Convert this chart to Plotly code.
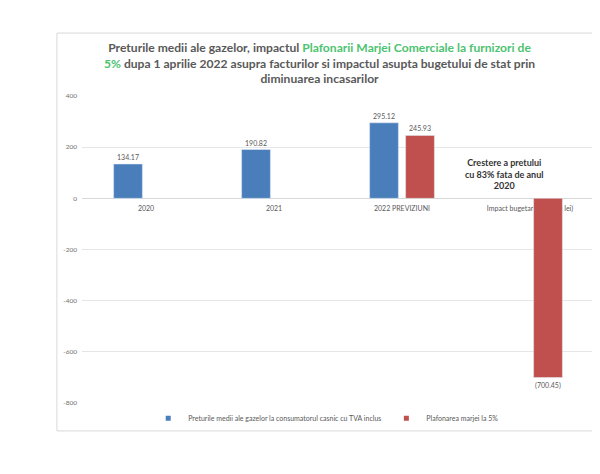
import plotly.graph_objects as go

categories = ["2020", "2021", "2022 PREVIZIUNI", "Impact bugetar (milioane lei)"]
pret_mediu = [134.17, 190.82, 295.12, None]
plafonare = [None, None, 245.93, -700.45]
series_names = ["Preturile medii ale gazelor la consumatorul casnic cu TVA inclus",
                "Plafonarea marjei la 5%"]
series_colors = ["#4A7EBB", "#C0504D"]
y_ticks = [-800, -600, -400, -200, 0, 200, 400]
y_tick_text = ["-800", "-600", "-400", "-200", "0", "200", "400"]


def fmt(v):
    if v is None:
        return ""
    return f"({abs(v):.2f})" if v < 0 else f"{v:.2f}"


fig = go.Figure()
for vals, name, col in zip([pret_mediu, plafonare], series_names, series_colors):
    fig.add_trace(go.Bar(x=categories, y=vals, name=name, showlegend=False,
                         marker_color=col, text=[fmt(v) for v in vals],
                         textposition="outside", cliponaxis=False,
                         textfont=dict(size=7, color="#595959")))
# legend entries with small square keys
for name, col in zip(series_names, series_colors):
    fig.add_trace(go.Scatter(x=[None], y=[None], mode="markers", name=name,
                             marker=dict(symbol="square", size=5, color=col)))

title = ("Preturile medii ale gazelor, impactul <span style='color:#4CC36F'>Plafonarii Marjei Comerciale la furnizori de<br>"
         "5%</span> dupa 1 aprilie 2022 asupra facturilor si impactul asupta bugetului de stat prin<br>"
         "diminuarea incasarilor")

fig.update_layout(
    width=592, height=466,
    margin=dict(l=74, r=6, t=88, b=71),
    paper_bgcolor="white", plot_bgcolor="white",
    barmode="group", bargap=0.4375, bargroupgap=0.2,
    font=dict(family="Lato", color="#595959"),
    showlegend=True,
    legend=dict(orientation="h", x=0.477, xanchor="center", y=-0.05, yanchor="middle",
                bgcolor="rgba(0,0,0,0)",
                font=dict(size=7, color="#595959"), itemwidth=30, tracegroupgap=0),
    xaxis=dict(anchor="free", position=2/3, showgrid=False, showline=False,
               ticks="", tickfont=dict(size=7, color="#595959"), layer="below traces",
               ticklabelstandoff=5),
    yaxis=dict(range=[-800, 400], tickvals=y_ticks, ticktext=y_tick_text,
               showgrid=True, gridcolor="#E6E6E6",
               zeroline=True, zerolinecolor="#D9D9D9", zerolinewidth=1,
               tickfont=dict(size=6.5, color="#6F6F6F"), ticks="", ticklabelstandoff=4),
    shapes=[dict(type="rect", xref="paper", yref="paper", x0=-0.049, x1=1.03,
                 y0=-0.091, y1=1.205, line=dict(color="#D9D9D9", width=1),
                 fillcolor="rgba(0,0,0,0)", layer="below")],
    annotations=[
        dict(text=f"<b>{title}</b>", xref="paper", yref="paper", x=0.463, y=1.19,
             xanchor="center", yanchor="top", showarrow=False, align="center",
             font=dict(size=12.1, color="#595959", family="Lato")),
        dict(text="<b>Crestere a pretului<br>cu 83% fata de anul<br>2020</b>",
             x=categories[3], y=96, xref="x", yref="y", xshift=-26,
             showarrow=False, align="center", yanchor="middle",
             font=dict(size=9, color="#333333", family="Lato")),
    ],
)

fig.write_html("out.html")
